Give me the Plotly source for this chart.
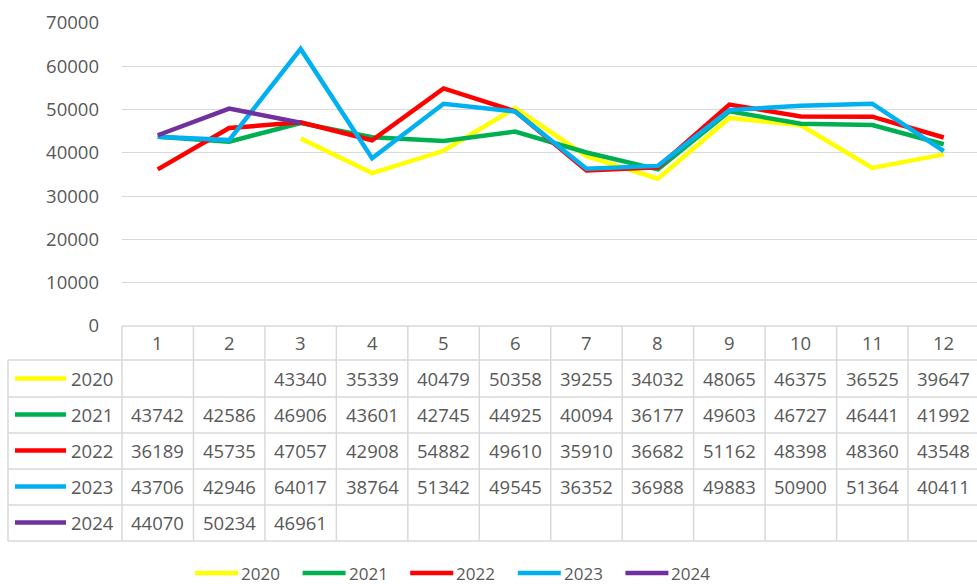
import plotly.graph_objects as go

months = [1, 2, 3, 4, 5, 6, 7, 8, 9, 10, 11, 12]
series_names = ["2020", "2021", "2022", "2023", "2024"]
v2020 = [None, None, 43340, 35339, 40479, 50358, 39255, 34032, 48065, 46375, 36525, 39647]
v2021 = [43742, 42586, 46906, 43601, 42745, 44925, 40094, 36177, 49603, 46727, 46441, 41992]
v2022 = [36189, 45735, 47057, 42908, 54882, 49610, 35910, 36682, 51162, 48398, 48360, 43548]
v2023 = [43706, 42946, 64017, 38764, 51342, 49545, 36352, 36988, 49883, 50900, 51364, 40411]
v2024 = [44070, 50234, 46961, None, None, None, None, None, None, None, None, None]
series_values = [v2020, v2021, v2022, v2023, v2024]
colors = ["#FFFF00", "#00B050", "#FF0000", "#00B0F0", "#7030A0"]
y_ticks = [0, 10000, 20000, 30000, 40000, 50000, 60000, 70000]

W, H = 977, 584
ML, MR, MT, MB = 122, 0, 23, 258
PW = W - ML - MR
PH = H - MT - MB
XR = [0.5, 12.465]
TXT = "#595959"
GRID = "#D9D9D9"
FONT = "Open Sans"
FS = 18.5


def xp(px):
    return (px - ML) / PW


def yp(py):
    return (MT + PH - py) / PH


def xcat(v):
    return (v - XR[0]) / (XR[1] - XR[0])


fig = go.Figure()
for name, vals, c in zip(series_names, series_values, colors):
    fig.add_trace(go.Scatter(x=months, y=vals, mode="lines", name=name,
                             line=dict(color=c, width=4.5), connectgaps=False,
                             hoverinfo="skip"))

shapes = []
annotations = []
bw = 1.5
shapes.append(dict(type="line", xref="paper", yref="paper", x0=0, x1=1,
                   y0=yp(326), y1=yp(326), line=dict(color=GRID, width=bw)))
row_lines = [360, 397, 433, 469, 505, 541]
for py in row_lines:
    shapes.append(dict(type="line", xref="paper", yref="paper", x0=xp(8), x1=1,
                       y0=yp(py), y1=yp(py), line=dict(color=GRID, width=bw)))
shapes.append(dict(type="line", xref="paper", yref="paper", x0=xp(8), x1=xp(8),
                   y0=yp(360), y1=yp(541), line=dict(color=GRID, width=bw)))
for k in range(13):
    x = xcat(k + 0.5)
    if x > 1.0:
        continue
    shapes.append(dict(type="line", xref="paper", yref="paper", x0=x, x1=x,
                       y0=yp(326), y1=yp(541), line=dict(color=GRID, width=bw)))

for m in months:
    annotations.append(dict(x=m, y=yp(343), xref="x", yref="paper", text=str(m),
                            showarrow=False, xanchor="center", yanchor="middle",
                            font=dict(family=FONT, size=FS, color=TXT)))

row_centers = [378.5, 414.5, 450.5, 486.5, 522.5]
for name, vals, c, rc in zip(series_names, series_values, colors, row_centers):
    shapes.append(dict(type="line", xref="paper", yref="paper", x0=xp(15), x1=xp(66),
                       y0=yp(rc), y1=yp(rc), line=dict(color=c, width=4.5)))
    annotations.append(dict(x=xp(69), y=yp(rc), xref="paper", yref="paper", text=name,
                            showarrow=False, xanchor="left", yanchor="middle",
                            font=dict(family=FONT, size=FS, color=TXT)))
    for m, v in zip(months, vals):
        if v is None:
            continue
        annotations.append(dict(x=m, y=yp(rc), xref="x", yref="paper", text=str(v),
                                showarrow=False, xanchor="center", yanchor="middle",
                                font=dict(family=FONT, size=FS, color=TXT)))

leg_y = 573
for i, (name, c) in enumerate(zip(series_names, colors)):
    x0 = 195 + i * 107.6
    shapes.append(dict(type="line", xref="paper", yref="paper", x0=xp(x0), x1=xp(x0 + 43),
                       y0=yp(leg_y), y1=yp(leg_y), line=dict(color=c, width=4.5)))
    annotations.append(dict(x=xp(x0 + 44), y=yp(leg_y), xref="paper", yref="paper", text=name,
                            showarrow=False, xanchor="left", yanchor="middle",
                            font=dict(family=FONT, size=17, color=TXT)))

fig.update_layout(
    width=W, height=H,
    margin=dict(l=ML, r=MR, t=MT, b=MB, pad=0),
    paper_bgcolor="white", plot_bgcolor="white",
    showlegend=False,
    shapes=shapes, annotations=annotations,
    xaxis=dict(range=XR, showgrid=False, zeroline=False, showline=False,
               showticklabels=False, ticks="", fixedrange=True),
    yaxis=dict(range=[0, 70000], tickvals=y_ticks, ticktext=[str(t) for t in y_ticks],
               showgrid=True, gridcolor=GRID, gridwidth=1.3, zeroline=False,
               showline=False, ticks="", ticklabelstandoff=22,
               tickfont=dict(family=FONT, size=FS, color=TXT), fixedrange=True),
)

fig.write_html("out.html", config={"displayModeBar": False},
               post_script="document.body.style.margin='0';document.body.style.overflow='hidden';")
